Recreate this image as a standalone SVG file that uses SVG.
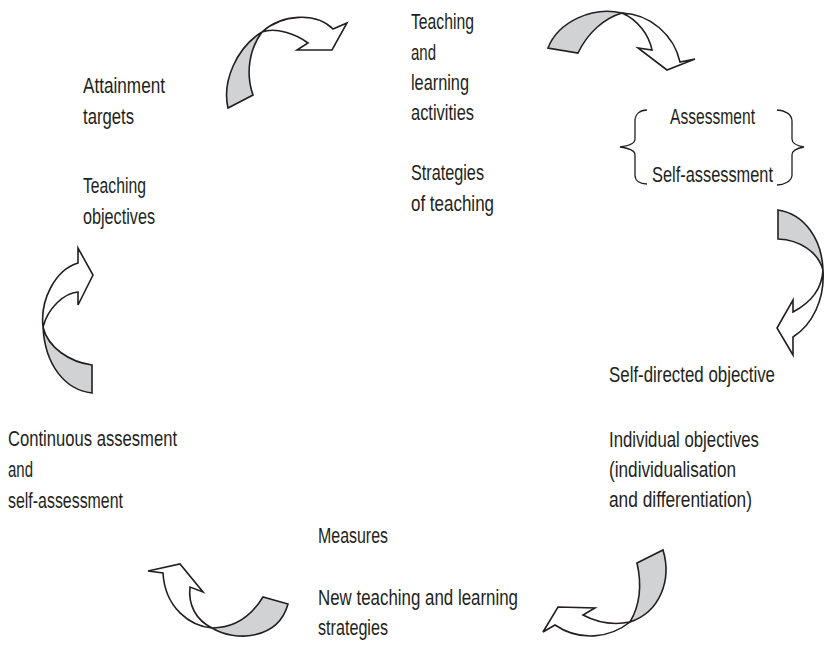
<svg xmlns="http://www.w3.org/2000/svg" width="825" height="647" viewBox="0 0 825 647">
<style>
text{font-family:"Liberation Sans",Arial,sans-serif;font-size:22px;fill:#231f20}
.g{fill:#d1d2d4;stroke:#231f20;stroke-width:1.6;stroke-linejoin:miter}
.w{fill:#fff;stroke:#231f20;stroke-width:1.6;stroke-linejoin:miter}
.br{fill:none;stroke:#231f20;stroke-width:1.3}
</style>
<rect width="825" height="647" fill="#fff"/>
<g id="connectors">
<g id="arrow1">
<path class="g" d="M228,108 C222,82 236,48 262,32 C250,48 245,72 253,95 Z"/>
<path class="w" d="M262,32 C282,14 316,12 333,29 L347,23 L332,50 L297,50 L308,43 C296,34 276,27 262,32 Z"/>
</g>
<g id="arrow2">
<path class="g" d="M548,48 C558,22 592,6 622,13 C605,18 588,32 578,53 Z"/>
<path class="w" d="M622,13 C650,14 674,35 680,62 L695,59 L667,70 L638,48 L652,50 C649,35 638,20 622,13 Z"/>
</g>
<g id="arrow3">
<path class="g" d="M778,210 L778,239 C800,240 818,252 823,270 C822,240 805,214 778,210 Z"/>
<path class="w" d="M823,270 C825,300 812,325 793,337 L793,355 L777,328 L793,300 L793,312 C810,303 822,290 823,270 Z"/>
</g>
<g id="arrow4">
<path class="w" d="M43,327 C40,300 55,270 78,263 L78,248 L93,275 L78,305 L78,292 C64,293 48,308 43,327 Z"/>
<path class="g" d="M43,327 C45,365 65,390 92,393 L92,365 C70,362 48,348 43,327 Z"/>
</g>
<g id="arrow5">
<path class="w" d="M212,628 C190,626 165,608 163,573 L148,571 L180,564 L203,592 L190,587 C188,605 196,620 212,628 Z"/>
<path class="g" d="M212,628 C235,642 278,640 288,604 L263,597 C252,615 235,628 212,628 Z"/>
</g>
<g id="arrow6">
<path class="g" d="M637,563 L663,550 C672,580 660,612 630,622 C640,605 642,585 637,563 Z"/>
<path class="w" d="M630,622 C610,638 580,642 555,625 L543,632 L558,607 L595,608 L583,615 C598,623 615,625 630,622 Z"/>
</g>
</g>
<g id="node-objectives">
<text x="83" y="93" textLength="82" lengthAdjust="spacingAndGlyphs">Attainment</text>
<text x="83" y="124" textLength="51" lengthAdjust="spacingAndGlyphs">targets</text>
<text x="83" y="193" textLength="63" lengthAdjust="spacingAndGlyphs">Teaching</text>
<text x="83" y="224" textLength="72" lengthAdjust="spacingAndGlyphs">objectives</text>
</g>
<g id="node-activities">
<text x="411" y="29" textLength="63" lengthAdjust="spacingAndGlyphs">Teaching</text>
<text x="411" y="60" textLength="25" lengthAdjust="spacingAndGlyphs">and</text>
<text x="411" y="90" textLength="58" lengthAdjust="spacingAndGlyphs">learning</text>
<text x="411" y="120" textLength="63" lengthAdjust="spacingAndGlyphs">activities</text>
<text x="411" y="180" textLength="73" lengthAdjust="spacingAndGlyphs">Strategies</text>
<text x="411" y="211" textLength="83" lengthAdjust="spacingAndGlyphs">of teaching</text>
</g>
<g id="node-assessment">
<path class="br" d="M647,110 C640,110 635,114 635,121 L635,139 C635,144 628,146 620,147 C628,148 635,150 635,155 L635,175 C635,181 640,184 647,184"/>
<path class="br" d="M777,110 C784,110 792,114 792,121 L792,139 C792,144 798,146 804,147 C798,148 792,150 792,155 L792,175 C792,181 784,185 777,185"/>
<text x="670" y="124" textLength="85" lengthAdjust="spacingAndGlyphs">Assessment</text>
<text x="652" y="182" textLength="121" lengthAdjust="spacingAndGlyphs">Self-assessment</text>
</g>
<g id="node-individual">
<text x="609" y="382" textLength="166" lengthAdjust="spacingAndGlyphs">Self-directed objective</text>
<text x="609" y="447" textLength="150" lengthAdjust="spacingAndGlyphs">Individual objectives</text>
<text x="609" y="477" textLength="127" lengthAdjust="spacingAndGlyphs">(individualisation</text>
<text x="609" y="507" textLength="143" lengthAdjust="spacingAndGlyphs">and differentiation)</text>
</g>
<g id="node-measures">
<text x="318" y="543" textLength="70" lengthAdjust="spacingAndGlyphs">Measures</text>
<text x="318" y="605" textLength="200" lengthAdjust="spacingAndGlyphs">New teaching and learning</text>
<text x="318" y="635" textLength="70" lengthAdjust="spacingAndGlyphs">strategies</text>
</g>
<g id="node-continuous">
<text x="8" y="446" textLength="169" lengthAdjust="spacingAndGlyphs">Continuous assesment</text>
<text x="8" y="477" textLength="25" lengthAdjust="spacingAndGlyphs">and</text>
<text x="8" y="508" textLength="115" lengthAdjust="spacingAndGlyphs">self-assessment</text>
</g>
</svg>
